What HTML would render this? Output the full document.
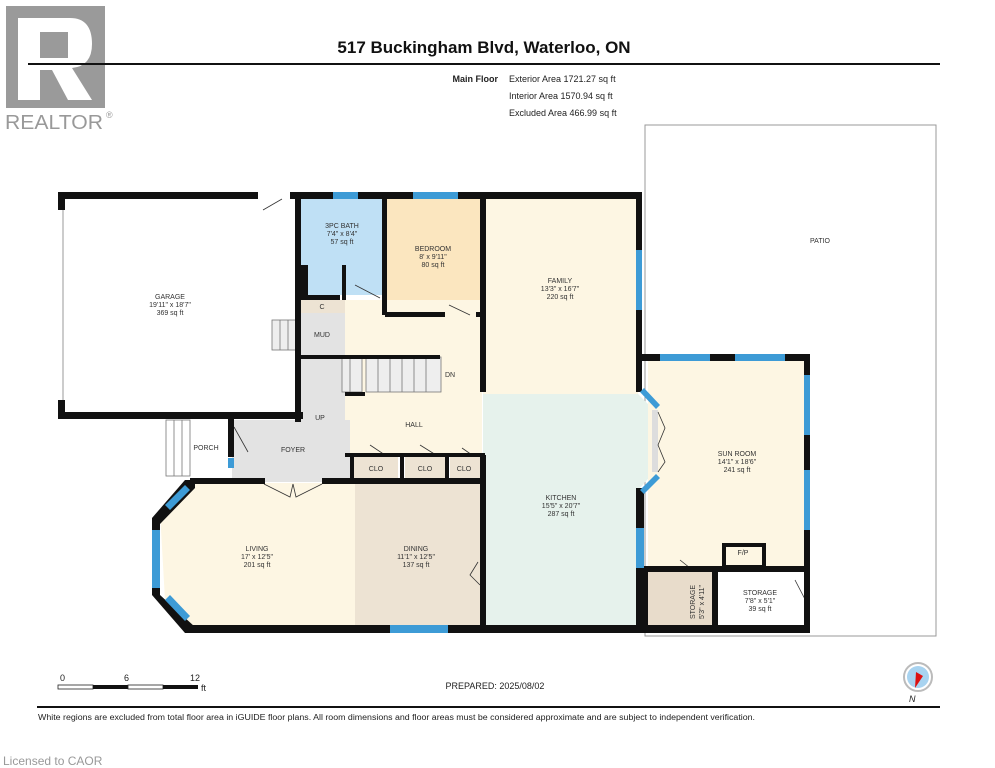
<!DOCTYPE html>
<html><head><meta charset="utf-8"><style>
html,body{margin:0;padding:0;background:#fff;}
svg{display:block;font-family:"Liberation Sans",Arial,sans-serif;}
.l{font-size:7px;fill:#333;text-anchor:middle}
</style></head><body>
<svg width="995" height="768" viewBox="0 0 995 768" xmlns="http://www.w3.org/2000/svg">
<!-- logo -->
<rect x="6" y="6" width="99" height="102" fill="#9a9a9a"/>
<path d="M18 18 H70 Q92 18 92 44 Q92 66 72 68 L92 100 H68 L52 70 H40 V100 H18 Z" fill="#fff"/>
<rect x="40" y="32" width="28" height="26" fill="#9a9a9a"/>
<text x="5" y="129" font-size="20" fill="#999" textLength="98" lengthAdjust="spacingAndGlyphs">REALTOR</text>
<text x="106" y="118" font-size="9" fill="#999">®</text>
<!-- header -->
<text x="484" y="53" font-size="17" font-weight="bold" text-anchor="middle" fill="#111">517 Buckingham Blvd, Waterloo, ON</text>
<rect x="28" y="63" width="912" height="2" fill="#111"/>
<text x="498" y="82" font-size="9" font-weight="bold" text-anchor="end" fill="#222">Main Floor</text>
<text x="509" y="82" font-size="9" fill="#222">Exterior Area 1721.27 sq ft</text>
<text x="509" y="99" font-size="9" fill="#222">Interior Area 1570.94 sq ft</text>
<text x="509" y="116" font-size="9" fill="#222">Excluded Area 466.99 sq ft</text>
<!-- patio -->
<rect x="645" y="125" width="291" height="511" fill="none" stroke="#999" stroke-width="1"/>
<text x="820" y="243" class="l">PATIO</text>
<!-- floors -->
<rect x="300" y="199" width="85" height="96" fill="#bfe0f5"/>
<rect x="385" y="199" width="97" height="116" fill="#fbe6bf"/>
<rect x="483" y="199" width="155" height="195" fill="#fdf6e3"/>
<polygon points="483,394 638,394 656,412 656,470 638,490 638,625 483,625" fill="#e6f2ec"/>
<rect x="648" y="360" width="158" height="210" fill="#fdf6e3"/>
<rect x="648" y="570" width="66" height="58" fill="#e8dccb"/>
<rect x="300" y="300" width="182" height="155" fill="#fdf6e3"/>
<rect x="300" y="300" width="45" height="120" fill="#e3e3e3"/>
<rect x="232" y="420" width="118" height="62" fill="#e3e3e3"/>
<rect x="300" y="300" width="45" height="13" fill="#ede3d3"/>
<rect x="353" y="456" width="45" height="24" fill="#ede3d3"/>
<rect x="405" y="456" width="40" height="24" fill="#ede3d3"/>
<rect x="450" y="456" width="30" height="24" fill="#ede3d3"/>
<polygon points="190,483 355,483 355,627 195,627 165,600 160,512" fill="#fdf6e3"/>
<rect x="355" y="483" width="127" height="144" fill="#ede3d3"/>
<rect x="652" y="410" width="6" height="62" fill="#ddd"/>
<!-- stairs -->
<g stroke="#777" stroke-width="0.8" fill="#eee">
<rect x="272" y="320" width="28" height="30"/>
<rect x="342" y="357" width="20" height="35"/>
<rect x="366" y="357" width="75" height="35"/>
</g>
<g stroke="#777" stroke-width="0.8">
<line x1="280" y1="320" x2="280" y2="350"/><line x1="288" y1="320" x2="288" y2="350"/>
<line x1="350" y1="357" x2="350" y2="392"/><line x1="378" y1="357" x2="378" y2="392"/><line x1="390" y1="357" x2="390" y2="392"/><line x1="402" y1="357" x2="402" y2="392"/><line x1="414" y1="357" x2="414" y2="392"/><line x1="426" y1="357" x2="426" y2="392"/>
<rect x="166" y="420" width="24" height="56" fill="#fff"/><line x1="174" y1="420" x2="174" y2="476"/><line x1="182" y1="420" x2="182" y2="476"/>
</g>
<!-- doors -->
<g stroke="#333" stroke-width="0.8" fill="none">
<path d="M263 210 L282 199"/><path d="M355 285 L380 298"/><path d="M449 305 L470 315"/>
<path d="M234 427 L248 452"/><path d="M264 484 L290 497 L293 484 M322 484 L296 497 L293 484"/>
<path d="M658 412 L665 428 L658 445 L665 462 L658 472"/>
<path d="M680 560 L690 568"/><path d="M795 580 L808 605"/><path d="M478 562 L470 575 L480 585"/>
<path d="M370 445 L385 455"/><path d="M420 445 L436 455"/><path d="M462 448 L472 455"/>
</g>
<!-- walls -->
<g fill="#111">
<rect x="58" y="192" width="200" height="7"/>
<rect x="290" y="192" width="352" height="7"/>
<rect x="58" y="192" width="7" height="18"/><rect x="58" y="400" width="7" height="18"/>
<rect x="58" y="412" width="245" height="7"/>
<rect x="295" y="192" width="6" height="230"/>
<rect x="300" y="265" width="8" height="30"/>
<rect x="300" y="295" width="40" height="5"/>
<rect x="342" y="265" width="4" height="35"/>
<rect x="382" y="192" width="5" height="123"/>
<rect x="385" y="312" width="60" height="5"/>
<rect x="476" y="312" width="10" height="5"/>
<rect x="480" y="192" width="6" height="200"/>
<rect x="480" y="455" width="6" height="178"/>
<rect x="300" y="355" width="140" height="4"/>
<rect x="345" y="392" width="20" height="4"/>
<rect x="636" y="192" width="6" height="58"/><rect x="636" y="310" width="6" height="82"/>
<rect x="345" y="453" width="140" height="4"/>
<rect x="350" y="455" width="4" height="27"/><rect x="400" y="455" width="4" height="27"/><rect x="445" y="455" width="4" height="27"/>
<rect x="228" y="415" width="6" height="12"/>
<rect x="190" y="478" width="75" height="6"/><rect x="322" y="478" width="163" height="6"/>
<rect x="190" y="625" width="200" height="8"/><rect x="448" y="625" width="362" height="8"/>
<rect x="642" y="354" width="168" height="7"/>
<rect x="804" y="354" width="6" height="279"/>
<rect x="636" y="488" width="8" height="40"/><rect x="636" y="568" width="12" height="65"/>
<rect x="642" y="566" width="168" height="6"/>
<rect x="712" y="566" width="6" height="67"/>
<rect x="724" y="545" width="40" height="22" fill="none" stroke="#111" stroke-width="4"/>
<rect x="228" y="427" width="6" height="30"/>
</g>
<polygon points="152,518 185,480 195,480 195,488 160,524" fill="#111"/>
<polygon points="152,518 160,518 160,595 152,595" fill="#111"/>
<polygon points="152,595 160,595 195,627 195,633 185,633" fill="#111"/>
<!-- windows -->
<g fill="#3d9bd6">
<rect x="333" y="192" width="25" height="7"/><rect x="413" y="192" width="45" height="7"/>
<rect x="636" y="250" width="6" height="60"/>
<rect x="390" y="625" width="58" height="8"/>
<rect x="152" y="530" width="8" height="58"/>
<polygon points="165,505 185,485 190,490 170,510"/>
<polygon points="165,600 170,595 190,616 185,621"/>
<rect x="660" y="354" width="50" height="7"/><rect x="735" y="354" width="50" height="7"/>
<rect x="804" y="375" width="6" height="60"/><rect x="804" y="470" width="6" height="60"/>
<rect x="636" y="528" width="8" height="40"/>
<polygon points="640,392 644,388 660,405 656,409"/>
<polygon points="640,490 644,494 660,478 656,474"/>
<rect x="228" y="458" width="6" height="10"/>
</g>
<rect x="62" y="210" width="2" height="190" fill="#ccc"/>
<!-- labels -->
<g class="l">
<text x="170" y="299">GARAGE</text><text x="170" y="307">19'11" x 18'7"</text><text x="170" y="315">369 sq ft</text>
<text x="342" y="228">3PC BATH</text><text x="342" y="236">7'4" x 8'4"</text><text x="342" y="244">57 sq ft</text>
<text x="433" y="251">BEDROOM</text><text x="433" y="259">8' x 9'11"</text><text x="433" y="267">80 sq ft</text>
<text x="560" y="283">FAMILY</text><text x="560" y="291">13'3" x 16'7"</text><text x="560" y="299">220 sq ft</text>
<text x="561" y="500">KITCHEN</text><text x="561" y="508">15'5" x 20'7"</text><text x="561" y="516">287 sq ft</text>
<text x="737" y="456">SUN ROOM</text><text x="737" y="464">14'1" x 18'6"</text><text x="737" y="472">241 sq ft</text>
<text x="760" y="595">STORAGE</text><text x="760" y="603">7'8" x 5'1"</text><text x="760" y="611">39 sq ft</text>
<text x="257" y="551">LIVING</text><text x="257" y="559">17' x 12'5"</text><text x="257" y="567">201 sq ft</text>
<text x="416" y="551">DINING</text><text x="416" y="559">11'1" x 12'5"</text><text x="416" y="567">137 sq ft</text>
<text x="322" y="337">MUD</text><text x="322" y="309">C</text>
<text x="320" y="420">UP</text><text x="450" y="377">DN</text>
<text x="414" y="427">HALL</text><text x="293" y="452">FOYER</text><text x="206" y="450">PORCH</text>
<text x="376" y="471">CLO</text><text x="425" y="471">CLO</text><text x="464" y="471">CLO</text>
<text x="743" y="555">F/P</text>
<text transform="translate(695,602) rotate(-90)">STORAGE</text>
<text transform="translate(704,602) rotate(-90)">5'3" x 4'11"</text>
</g>
<!-- scale / footer -->
<text x="60" y="681" font-size="9" fill="#222">0</text><text x="124" y="681" font-size="9" fill="#222">6</text><text x="190" y="681" font-size="9" fill="#222">12</text>
<rect x="58" y="685" width="35" height="4" fill="#fff" stroke="#222" stroke-width="0.8"/>
<rect x="93" y="685" width="35" height="4" fill="#111"/>
<rect x="128" y="685" width="35" height="4" fill="#fff" stroke="#222" stroke-width="0.8"/>
<rect x="163" y="685" width="35" height="4" fill="#111"/>
<text x="201" y="691" font-size="9" fill="#222">ft</text>
<text x="495" y="689" font-size="9" text-anchor="middle" fill="#222">PREPARED: 2025/08/02</text>
<circle cx="918" cy="677" r="14" fill="#fff" stroke="#bbb" stroke-width="2"/>
<circle cx="918" cy="677" r="11" fill="#a8d3f0"/>
<polygon points="916,672 923,676 915,688" fill="#d11"/>
<text x="909" y="702" font-size="9" font-style="italic" fill="#222">N</text>
<rect x="37" y="706" width="903" height="2" fill="#111"/>
<text x="38" y="720" font-size="8" fill="#222" textLength="717" lengthAdjust="spacingAndGlyphs">White regions are excluded from total floor area in iGUIDE floor plans. All room dimensions and floor areas must be considered approximate and are subject to independent verification.</text>
<text x="3" y="765" font-size="12" fill="#999">Licensed to CAOR</text>
</svg>
</body></html>
